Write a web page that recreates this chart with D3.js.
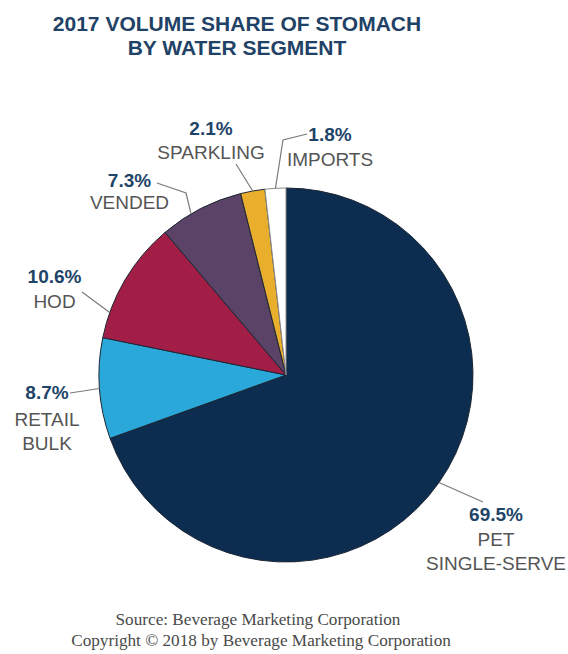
<!DOCTYPE html>
<html>
<head>
<meta charset="utf-8">
<script src="https://cdn.jsdelivr.net/npm/d3@7"></script>
<style>
  html, body { margin: 0; padding: 0; background: #ffffff; }
  svg { display: block; }
</style>
</head>
<body>
<svg id="chart" width="568" height="654"></svg>
<script>
// Segment names, shares (%) and fills
const segments = ["PET SINGLE-SERVE", "RETAIL BULK", "HOD", "VENDED", "SPARKLING", "IMPORTS"];
const shares = [69.5, 8.7, 10.6, 7.3, 2.1, 1.8];
const labelLines = [["PET", "SINGLE-SERVE"], ["RETAIL", "BULK"], ["HOD"], ["VENDED"], ["SPARKLING"], ["IMPORTS"]];
const fills = ["#0c2d50", "#2ba8da", "#a31e47", "#5a4366", "#e9ae2b", "#ffffff"];
const titleLines = ["2017 VOLUME SHARE OF STOMACH", "BY WATER SEGMENT"];
const footLines = ["Source: Beverage Marketing Corporation", "Copyright \u00A9 2018 by Beverage Marketing Corporation"];

// Layout
const cx = 286, cy = 375, radius = 187;
// label block: centre x, baseline of the percent line, line gap,
// leader angle (deg, clockwise from top; null = slice middle), and leader bend points
const labelLayout = [
  { x: 496, y: 521, gap: 25, angle: null, bends: [[483, 502]] },
  { x: 47,  y: 399, gap: 27, angle: null, bends: [[70, 393]] },
  { x: 54.5, y: 283, gap: 25, angle: 289.5, bends: [[82, 292]] },
  { x: 129.5, y: 187, gap: 22, angle: 329.5, bends: [[186, 193], [157, 183]] },
  { x: 211, y: 135, gap: 24, angle: null, bends: [[236, 164]] },
  { x: 330, y: 141, gap: 25, angle: null, bends: [[283, 140], [307, 134]] }
];

const svg = d3.select("#chart");

// Title
svg.append("g").selectAll("text").data(titleLines).join("text")
  .attr("x", 237).attr("y", (d, i) => 31 + i * 24)
  .attr("text-anchor", "middle")
  .attr("font-family", "Liberation Sans, Arial, sans-serif")
  .attr("font-weight", "bold").attr("font-size", 21)
  .attr("fill", "#1f4266")
  .text(d => d);

// Pie
const pie = d3.pie().sort(null).value(d => d);
const arcs = pie(shares);
const arc = d3.arc().innerRadius(0).outerRadius(radius);

const pieG = svg.append("g").attr("transform", `translate(${cx},${cy})`);
pieG.selectAll("path").data(arcs).join("path")
  .attr("d", arc)
  .attr("fill", (d, i) => fills[i])
  .attr("stroke", (d, i) => i === 5 ? "#8a8a8a" : "#1b2633")
  .attr("stroke-width", 1)
  .attr("stroke-linejoin", "round");

// Leader lines
const rad = a => a * Math.PI / 180;
const lineGen = d3.line();
svg.append("g").selectAll("path").data(arcs).join("path")
  .attr("d", (d, i) => {
    const L = labelLayout[i];
    const ang = L.angle === null ? (d.startAngle + d.endAngle) / 2 : rad(L.angle);
    const start = [cx + radius * Math.sin(ang), cy - radius * Math.cos(ang)];
    return lineGen([start, ...L.bends]);
  })
  .attr("fill", "none")
  .attr("stroke", "#7a7a7a")
  .attr("stroke-width", 1.2);

// Labels
const labels = svg.append("g").selectAll("g").data(arcs).join("g");
labels.append("text")
  .attr("x", (d, i) => labelLayout[i].x)
  .attr("y", (d, i) => labelLayout[i].y)
  .attr("text-anchor", "middle")
  .attr("font-family", "Liberation Sans, Arial, sans-serif")
  .attr("font-weight", "bold").attr("font-size", 19)
  .attr("fill", "#1e4468")
  .text(d => d.data.toFixed(1) + "%");
labels.each(function (d, i) {
  const L = labelLayout[i];
  d3.select(this).selectAll("text.name").data(labelLines[i]).join("text")
    .attr("class", "name")
    .attr("x", L.x)
    .attr("y", (t, j) => L.y + L.gap + j * 24)
    .attr("text-anchor", "middle")
    .attr("font-family", "Liberation Sans, Arial, sans-serif")
    .attr("font-size", 19)
    .attr("fill", "#555555")
    .text(t => t);
});

// Footer
svg.append("g").selectAll("text").data(footLines).join("text")
  .attr("x", (d, i) => i === 0 ? 258 : 261)
  .attr("y", (d, i) => 625 + i * 21)
  .attr("text-anchor", "middle")
  .attr("font-family", "Liberation Serif, Times New Roman, serif")
  .attr("font-size", 17.2)
  .attr("fill", "#4a4a4a")
  .text(d => d);
</script>
</body>
</html>
